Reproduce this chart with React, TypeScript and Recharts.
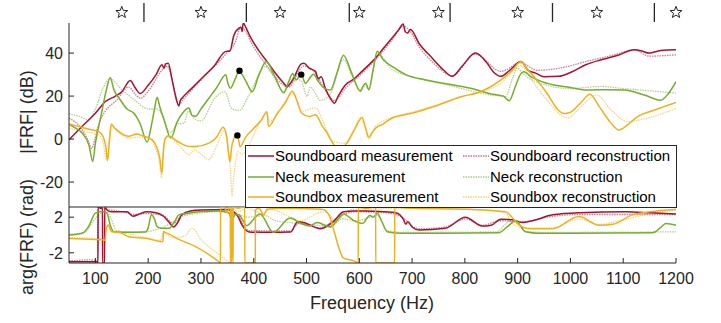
import React from "react";
import {
  ComposedChart,
  Line,
  Scatter,
  XAxis,
  YAxis,
  ReferenceLine,
} from "recharts";

// [frequency (Hz), |FRF| (dB)]
const soundboardMeas: [number, number][] = [
  [50, -0.3], [75, 6], [100, 12], [119, 17.5], [138, 20], [150, 22], [166, 27.3], [175, 24], [185, 21.2],
  [200, 25], [215, 30], [226, 34.6], [230, 33], [233, 35], [238, 35.3], [245, 28], [252, 20], [258, 15.4],
  [261, 18], [264, 19], [280, 23], [302, 28.4], [325, 34], [347, 40.8], [355, 41], [362, 48], [372, 51.6],
  [376, 52], [378, 50], [380, 54], [385, 52], [393, 47.8], [410, 41], [425, 36.1], [440, 31], [457, 26],
  [463, 24.5], [475, 28], [490, 35], [495, 35.3], [505, 33], [517, 31.5], [522, 28], [528, 29], [535, 24],
  [545, 19], [553, 16.7], [560, 20], [574, 25.3], [590, 28], [605, 31.5], [620, 35], [631, 37.7], [645, 42],
  [662, 47], [675, 51], [683, 53.5], [687, 50], [691, 49.3], [697, 51], [713, 44.6], [738, 37.7], [760, 32],
  [776, 29.2], [795, 34], [820, 40], [840, 36], [855, 31], [868, 29.2], [885, 32], [906, 36.1], [920, 32],
  [934, 30.7], [950, 29], [978, 29.2], [1000, 31], [1029, 34.6], [1060, 37], [1090, 39], [1121, 41.5],
  [1135, 41], [1149, 40], [1171, 41.2], [1200, 41.5],
];
const soundboardRec: [number, number][] = [
  [50, 9.7], [70, 6], [85, 0], [93, -4.3], [98, -1], [105, 6], [119, 13], [140, 18], [163, 24.2], [175, 21],
  [185, 19], [205, 24], [226, 32], [236, 34], [245, 28], [252, 19], [258, 16], [265, 18], [300, 27.5],
  [347, 39.5], [365, 45], [375, 52], [385, 50], [395, 45], [425, 34], [457, 25], [465, 24], [495, 34],
  [517, 30.5], [535, 23], [553, 18], [575, 24], [605, 30.5], [631, 37], [662, 46], [683, 52.5], [697, 50],
  [713, 43], [738, 36], [776, 29.5], [820, 39.5], [868, 31.5], [906, 35.5], [937, 32], [980, 33],
  [1030, 36.1], [1080, 39], [1121, 41.5], [1149, 38.6], [1200, 39.2],
];
const neckMeas: [number, number][] = [
  [50, 7], [60, 5.5], [75, 2.8], [88, -3], [95, -10.4], [100, -2], [110, 10], [120, 22], [128, 28.7],
  [135, 23], [147, 18.3], [160, 14], [173, 12], [185, 7], [198, -1.4], [205, 5], [212, 14], [217, 19.5],
  [222, 15], [230, 9], [243, 0.5], [255, 8], [265, 12], [277, 14.4], [283, 11], [290, 10.6], [300, 14],
  [315, 19], [330, 24], [347, 29.9], [351, 26], [356, 23.7], [365, 28], [372, 31.5], [385, 27], [397, 22],
  [410, 30], [424, 36.1], [440, 29], [457, 21.5], [465, 26], [474, 30.5], [480, 27.5], [490, 30],
  [498, 25.9], [505, 28], [513, 30.2], [522, 27], [532, 24], [545, 22.8], [558, 31], [570, 39], [585, 31],
  [602, 22.2], [608, 25], [612, 26], [618, 23], [626, 32], [634, 40.8], [645, 37], [662, 33.8], [688, 30],
  [729, 27.4], [770, 25.5], [811, 23.6], [850, 21], [873, 20], [884, 17.8], [895, 24], [905, 30],
  [912, 31.3], [925, 29], [956, 25.9], [1000, 24], [1032, 22.8], [1070, 23], [1102, 22.8], [1140, 20.5],
  [1171, 18.1], [1185, 21], [1200, 26.7],
];
const neckRec: [number, number][] = [
  [50, 11.8], [70, 10.5], [87, 9], [100, 14], [115, 24], [128, 28], [150, 23], [175, 18], [200, 14],
  [217, 14], [225, 12], [242, 3], [255, 7], [268, 7.4], [276, 13], [290, 9], [300, 8.5], [326, 19],
  [345, 22], [359, 14], [373, 13.3], [390, 20], [422, 33.8], [440, 28], [457, 22], [473, 28.5], [490, 27],
  [501, 19.9], [507, 24.3], [515, 22], [526, 18], [545, 21], [570, 37], [585, 30], [602, 23], [612, 25],
  [618, 23], [634, 40], [662, 32.5], [700, 29], [770, 25], [850, 20.5], [877, 19.9], [890, 28], [899, 33],
  [912, 30], [956, 25], [1000, 23.5], [1058, 24.5], [1100, 23.5], [1171, 22], [1200, 21.4],
];
const soundboxMeas: [number, number][] = [
  [50, 7], [68, 5.9], [90, 4.5], [106, 3.6], [115, 1], [120, -4], [123, -10], [127, 0], [130, 7],
  [137, 5], [144, 3.6], [163, 1.3], [178, 2.4], [190, 1.5], [201, 0.5], [210, -1], [217, -4.2], [222, -9],
  [226, -15.8], [229, -5], [232, 0], [238, 1.5], [255, -1], [277, -3.4], [290, -3.4], [315, -1.9],
  [330, 1], [342, 5.5], [348, 2], [352, -6], [355, -10.5], [358, -4], [362, 0], [366, 2], [369, 1.7],
  [371, 0], [374, -3.6], [385, 1], [400, 5], [415, 9], [425, 12.7], [428, 5.9], [445, 12], [460, 17],
  [473, 22.2], [480, 19], [491, 12], [505, 10.5], [517, 11.3], [530, 6], [539, 2.8], [550, -2], [560, -5],
  [574, -2.6], [590, 4], [605, 9.8], [612, 5], [618, 0.8], [624, 3], [631, 5.1], [645, 7], [662, 9.8],
  [684, 11.2], [707, 12.5], [740, 15], [792, 19.7], [830, 22], [868, 27.4], [890, 32], [906, 36],
  [920, 32], [931, 29], [956, 21.2], [975, 14], [988, 11.9], [1000, 12.5], [1020, 17], [1037, 20.9],
  [1055, 15], [1075, 8], [1092, 4.2], [1110, 7], [1127, 10.4], [1160, 13.5], [1200, 17],
];
const soundboxRec: [number, number][] = [
  [50, 5], [70, 4], [90, 3], [106, 2], [115, -2], [119, -8], [122, -10], [126, 0], [130, 6], [144, 3],
  [163, 0.5], [190, 1], [205, 0], [215, -5], [222, -12], [225, -18], [228, -8], [232, 0], [238, 1],
  [255, -2], [270, -6], [277, -7.3], [287, -5], [300, -7], [315, -9.6], [330, -3], [345, 4], [352, -5],
  [356, -15], [359, -26.5], [362, -18], [366, -10], [370, -6], [378, -7], [387, -5], [400, 2], [425, 12],
  [430, 8], [450, 14], [475, 21.5], [491, 13], [517, 14.5], [535, 6], [550, -1], [575, -2], [605, 10.5],
  [618, 0], [631, 6], [662, 10], [700, 12.5], [792, 19.5], [868, 26], [906, 34], [931, 26], [956, 18],
  [995, 9.8], [1020, 15], [1050, 20.6], [1075, 14], [1108, 8.2], [1150, 10], [1200, 14.3],
];

// [frequency (Hz), arg(FRF) (rad)] – wraps at ±pi are pairs a tenth of a Hz apart
const soundboardPhaseMeas: [number, number][] = [
  [50, -3.0], [80, -3.0], [104, -3.0], [105, -3.14], [105.1, 3.14], [110, 3.0], [113.5, 3.14], [113.6, -3.14],
  [117.5, -3.14], [117.6, 3.14], [122, 2.8], [130, 2.6], [160, 2.6], [171, 2.1], [185, 2.4], [197, 2.6],
  [215, 2.5], [229, 2.1], [240, 1.4], [248, 0.9], [256, 1.4], [264, 2.3], [280, 2.7], [300, 2.8],
  [350, 2.85], [362, 2.6], [370, 2.1], [378, 1.1], [391, 0.35], [430, 0.3], [470, 0.35], [483, 1.5],
  [500, 1.3], [526, 0.7], [551, 1.5], [570, 2.6], [590, 2.7], [612, 2.7], [650, 2.6], [669, 2.5],
  [684, 1.7], [688, 1.2], [692, 1.5], [700, 0.9], [713, 0.56], [763, 0.75], [801, 2.0], [833, 1.0],
  [850, 1.1], [868, 1.77], [890, 1.7], [909, 1.4], [928, 1.6], [966, 2.26], [1016, 2.5], [1105, 2.6],
  [1150, 2.5], [1200, 2.37],
];
const soundboardPhaseRec: [number, number][] = [
  [50, -2.9], [90, -2.8], [103, -2.9], [104, -3.14], [104.1, 3.14], [112, 3.0], [120, 2.9], [130, 2.8],
  [160, 2.5], [171, 2.3], [197, 2.4], [229, 2.2], [248, 1.3], [264, 2.2], [300, 2.7], [350, 2.8],
  [370, 2.3], [378, 1.4], [391, 0.5], [470, 0.45], [485, 1.3], [526, 0.8], [560, 2.0], [590, 2.6],
  [650, 2.5], [684, 1.9], [700, 1.0], [713, 0.7], [763, 0.9], [801, 1.8], [833, 1.1], [868, 1.6],
  [909, 1.5], [966, 2.1], [1016, 2.3], [1105, 2.3], [1200, 2.3],
];
const neckPhaseMeas: [number, number][] = [
  [50, 0], [75, 0.2], [87, 0.94], [100, 2.45], [113, 2.63], [122, 2.45], [128, 1.13], [135, 0.37],
  [163, 0.3], [195, 0.35], [200, 0.8], [206, 2.26], [212, 1.8], [217, 0.94], [226, 0.75], [240, 0.75],
  [250, 1.5], [258, 2.26], [277, 2.45], [302, 2.63], [334, 2.7], [353, 2.45], [359, 1.7], [365, 2.3],
  [372, 2.26], [380, 1.6], [386, 1.05], [412, 2.37], [437, 0.3], [469, 1.9], [488, 1.35], [505, 1.0],
  [520, 1.4], [545, 0.9], [560, 1.8], [570, 2.37], [590, 1.6], [606, 1.3], [620, 2.2], [627, 2.0],
  [634, 2.45], [642, 1.6], [653, 0.37], [680, 0.2], [864, 0.25], [880, 0.9], [896, 1.6], [915, 0.37],
  [940, 0.2], [1156, 0.25], [1170, 0.8], [1181, 1.3], [1200, 1.1],
];
const neckPhaseRec: [number, number][] = [
  [50, 0.1], [80, 0.3], [95, 1.5], [110, 2.4], [122, 2.6], [130, 1.8], [140, 0.5], [170, 0.35],
  [200, 0.4], [215, 0.6], [240, 1.2], [260, 2.0], [290, 2.4], [334, 2.6], [365, 2.4], [391, 2.0],
  [420, 2.2], [441, 1.6], [467, 1.4], [500, 1.2], [545, 1.0], [568, 1.8], [595, 1.6], [620, 2.0],
  [634, 2.2], [653, 0.5], [680, 0.3], [860, 0.35], [885, 1.5], [900, 1.3], [915, 0.4], [950, 0.3],
  [1200, 0.35],
];
const soundboxPhaseMeas: [number, number][] = [
  [50, -0.4], [100, -0.5], [116, -0.55], [118, -0.6], [121, 0.8], [125, 1.13], [130, 0.4], [150, 0.2],
  [163, -0.2], [195, -0.37], [228, -0.75], [229, 0.4], [232, 0.3], [240, 0.1], [258, -0.5], [290, -1.3],
  [315, -2.2], [334, -3.0], [337, -3.14], [337.1, 3.14], [345, 3.0], [350, 2.5], [353, 3.0], [356, 3.14],
  [356.1, -3.14], [358, -3.14], [358.1, 3.14], [360, 3.14], [360.1, -3.14], [361, -3.14], [361.1, 3.14],
  [370, 3.0], [383, 3.14], [383.1, -3.14], [403, -3.14], [403.1, 2.8], [410, 3.0], [419, 2.26], [425, 2.9],
  [450, 3.0], [530, 2.9], [543, 2.2], [551, 0.7], [560, -1.2], [570, -2.6], [590, -2.9], [598, -3.14],
  [598.1, 3.14], [610, 3.0], [631, 3.14], [631.1, -3.14], [667, -3.14], [667.1, 3.14], [700, 3.0],
  [800, 2.9], [877, 2.6], [903, 1.1], [922, 0.7], [966, 0.7], [1016, 2.07], [1054, 1.1], [1080, 1.2],
  [1117, 2.26], [1150, 2.6], [1200, 2.9],
];
const soundboxPhaseRec: [number, number][] = [
  [50, -0.3], [100, -0.4], [116, -0.5], [119, 0.6], [124, 1.0], [130, 0.4], [150, 0.25], [195, -0.3],
  [225, -0.6], [227, 0.2], [235, 0.0], [250, -0.3], [270, -0.1], [283, 0.75], [300, -0.5], [330, -2.0],
  [352, -3.0], [355, -3.14], [355.1, 3.14], [362, 3.0], [370, 2.6], [385, 3.0], [419, 2.4], [430, 2.9],
  [470, 2.0], [490, 1.6], [530, 2.6], [545, 2.2], [555, 1.4], [570, 2.3], [590, 2.9], [700, 3.0],
  [800, 2.9], [877, 2.5], [890, 1.3], [910, 0.8], [966, 0.8], [1016, 1.8], [1054, 1.2], [1100, 1.7],
  [1150, 2.4], [1200, 2.8],
];

const markerDots: [number, number][] = [[373, 31.8], [490, 30], [369, 1.7]];
const starFreqs = [150, 300, 450, 600, 750, 900, 1050, 1200];
const barFreqs = [192, 386, 581, 772, 966, 1159];
const freqTicks = [100, 200, 300, 400, 500, 600, 700, 800, 900, 1000, 1100, 1200];
const dbTicks = [-20, 0, 20, 40];
const radTicks = [-2, 0, 2];

const RED = "#A2142F";
const GREEN = "#77AC30";
const ORANGE = "#EDB120";
const INK = "#262626";
const FONT = "'Liberation Sans', Arial, sans-serif";

const pts = (a: [number, number][]) => a.map(([f, v]) => ({ f, v }));

function Star(props: any) {
  const { cx, cy } = props;
  const outer = 6.2;
  const inner = 2.6;
  const p: string[] = [];
  for (let i = 0; i < 10; i++) {
    const r = i % 2 === 0 ? outer : inner;
    const a = -Math.PI / 2 + (i * Math.PI) / 5;
    p.push(`${cx + r * Math.cos(a)},${cy + r * Math.sin(a)}`);
  }
  return <polygon points={p.join(" ")} fill="none" stroke={INK} strokeWidth={1} />;
}

function BlackDot(props: any) {
  return <circle cx={props.cx} cy={props.cy} r={3.2} fill="#000" />;
}

function series(data: [number, number][], color: string, rec: boolean, key: string) {
  return (
    <Line
      key={key}
      data={pts(data)}
      dataKey="v"
      type="monotone"
      stroke={color}
      strokeWidth={rec ? 1.3 : 1.5}
      strokeOpacity={rec ? 0.55 : 1}
      strokeDasharray={rec ? "1.5 1" : undefined}
      dot={false}
      activeDot={false}
      isAnimationActive={false}
    />
  );
}

const legendRows = [
  { color: RED, meas: "Soundboard measurement", rec: "Soundboard reconstruction" },
  { color: GREEN, meas: "Neck measurement", rec: "Neck reconstruction" },
  { color: ORANGE, meas: "Soundbox measurement", rec: "Soundbox reconstruction" },
];

function Legend() {
  return (
    <div
      style={{
        position: "absolute",
        left: 245,
        top: 145,
        width: 430,
        height: 61,
        background: "#fff",
        border: `1px solid ${INK}`,
        fontFamily: FONT,
        fontSize: 15,
        color: "#000",
        zIndex: 5,
      }}
    >
      {legendRows.map((r, i) => (
        <div key={i} style={{ position: "absolute", top: 1 + i * 20.5, left: 0, height: 18, width: "100%" }}>
          <svg style={{ position: "absolute", left: 1, top: 0 }} width={28} height={18}>
            <line x1={1} y1={9} x2={27} y2={9} stroke={r.color} strokeWidth={1.5} />
          </svg>
          <span style={{ position: "absolute", left: 29, top: 0, lineHeight: "18px", whiteSpace: "nowrap" }}>
            {r.meas}
          </span>
          <svg style={{ position: "absolute", left: 216, top: 0 }} width={28} height={18}>
            <line x1={1} y1={9} x2={27} y2={9} stroke={r.color} strokeOpacity={0.6} strokeWidth={1.3} strokeDasharray="1.5 1" />
          </svg>
          <span style={{ position: "absolute", left: 244, top: 0, lineHeight: "18px", whiteSpace: "nowrap" }}>
            {r.rec}
          </span>
        </div>
      ))}
    </div>
  );
}

const tickStyle = { fill: INK, fontSize: 16, fontFamily: FONT };

export default function App() {
  return (
    <div style={{ position: "absolute", left: 0, top: 0, width: 721, height: 323, background: "#fff", overflow: "hidden" }}>
      {/* star / bar row above the magnitude plot */}
      <div style={{ position: "absolute", left: 0, top: 0 }}>
        <ComposedChart width={721} height={26} margin={{ top: 3, right: 45, bottom: 4, left: 69 }}>
          <XAxis type="number" dataKey="f" domain={[50, 1200]} hide />
          <YAxis type="number" domain={[0, 1]} hide />
          {barFreqs.map((b) => (
            <ReferenceLine key={b} x={b} stroke={INK} strokeWidth={1.3} />
          ))}
          <Scatter data={starFreqs.map((f) => ({ f, v: 0.5 }))} dataKey="v" shape={<Star />} isAnimationActive={false} />
        </ComposedChart>
      </div>

      {/* magnitude */}
      <div style={{ position: "absolute", left: 0, top: 0 }}>
        <ComposedChart width={721} height={210} margin={{ top: 23, right: 45, bottom: 3, left: 9 }}>
          <XAxis type="number" dataKey="f" domain={[50, 1200]} hide allowDataOverflow />
          <YAxis
            type="number"
            domain={[-31.6, 54]}
            ticks={dbTicks}
            allowDataOverflow
            width={60}
            tickSize={-5}
            tickMargin={11}
            axisLine={{ stroke: INK }}
            tickLine={{ stroke: INK }}
            tick={tickStyle}
          />
          {series(soundboardRec, RED, true, "sbr")}
          {series(neckRec, GREEN, true, "nr")}
          {series(soundboxRec, ORANGE, true, "sxr")}
          {series(soundboardMeas, RED, false, "sbm")}
          {series(neckMeas, GREEN, false, "nm")}
          {series(soundboxMeas, ORANGE, false, "sxm")}
          <Scatter data={pts(markerDots)} dataKey="v" shape={<BlackDot />} isAnimationActive={false} />
        </ComposedChart>
      </div>

      {/* phase */}
      <div style={{ position: "absolute", left: 0, top: 200 }}>
        <ComposedChart width={721} height={123} margin={{ top: 7, right: 45, bottom: 0, left: 9 }}>
          <XAxis
            type="number"
            dataKey="f"
            domain={[50, 1200]}
            ticks={freqTicks}
            allowDataOverflow
            height={60}
            tickSize={-5}
            tickMargin={15}
            axisLine={{ stroke: INK }}
            tickLine={{ stroke: INK }}
            tick={tickStyle}
            interval={0}
          />
          <YAxis
            type="number"
            domain={[-Math.PI, Math.PI]}
            ticks={radTicks}
            allowDataOverflow
            width={60}
            tickSize={-5}
            tickMargin={11}
            axisLine={{ stroke: INK }}
            tickLine={{ stroke: INK }}
            tick={tickStyle}
          />
          <ReferenceLine y={Math.PI} stroke={INK} strokeWidth={1} />
          {series(soundboardPhaseRec, RED, true, "psbr")}
          {series(neckPhaseRec, GREEN, true, "pnr")}
          {series(soundboxPhaseRec, ORANGE, true, "psxr")}
          {series(soundboardPhaseMeas, RED, false, "psbm")}
          {series(neckPhaseMeas, GREEN, false, "pnm")}
          {series(soundboxPhaseMeas, ORANGE, false, "psxm")}
        </ComposedChart>
      </div>

      <Legend />

      <div
        style={{
          position: "absolute",
          left: 27,
          top: 112,
          transform: "translate(-50%, -50%) rotate(-90deg)",
          fontFamily: FONT,
          fontSize: 18,
          color: INK,
          whiteSpace: "nowrap",
        }}
      >
        |FRF| (dB)
      </div>
      <div
        style={{
          position: "absolute",
          left: 27,
          top: 237,
          transform: "translate(-50%, -50%) rotate(-90deg)",
          fontFamily: FONT,
          fontSize: 18,
          color: INK,
          whiteSpace: "nowrap",
        }}
      >
        arg(FRF) (rad)
      </div>
      <div
        style={{
          position: "absolute",
          left: 372,
          top: 303,
          transform: "translate(-50%, -50%)",
          fontFamily: FONT,
          fontSize: 18,
          color: INK,
          whiteSpace: "nowrap",
        }}
      >
        Frequency (Hz)
      </div>
    </div>
  );
}
